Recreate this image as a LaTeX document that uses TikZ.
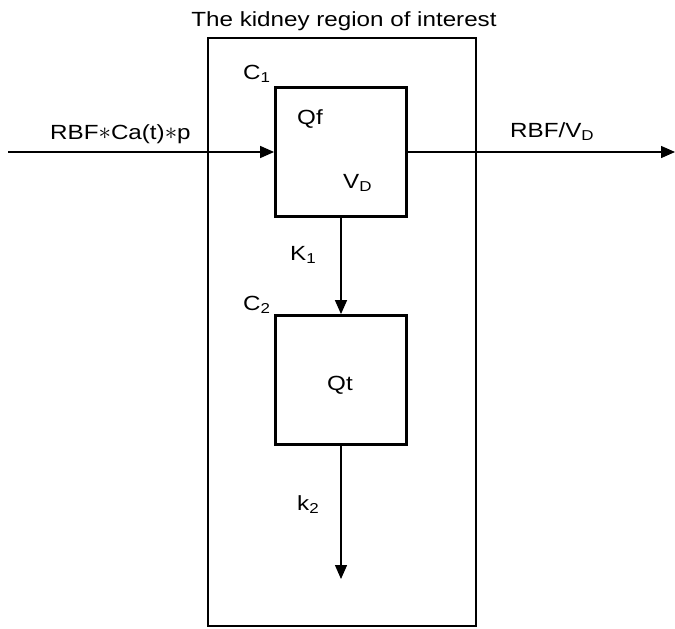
\documentclass[tikz,border=0pt]{standalone}
\usepackage{fontspec}
\setmainfont[FakeStretch=1.18]{Liberation Sans}
\usetikzlibrary{arrows.meta}
\newcommand{\bigstar}{\raisebox{0pt}{\fontsize{24}{20}\selectfont$\ast$}}
\begin{document}
\begin{tikzpicture}[x=1pt,y=-1pt,
  lbl/.style={font=\fontsize{20.5}{22}\selectfont, inner sep=0pt},
  comp/.style={draw, line width=2.8pt, minimum width=131pt, minimum height=129pt, inner sep=0pt},
  flow/.style={line width=1.4pt, -{Triangle[length=14pt,width=12pt]}},
  region/.style={draw, line width=1.3pt, minimum width=268pt, minimum height=588pt, inner sep=0pt}]
\useasboundingbox (0,0) rectangle (675,629);
\node[region] (roi) at (342,332) {};
\node[lbl, anchor=base] (title) at (344,26) {The kidney region of interest};
\node[comp] (b1) at (341,152) {};
\node[comp] (b2) at (341,380) {};
\coordinate (inp) at (8,152);
\coordinate (outp) at (675,152);
\coordinate (k2end) at (341,579);
\draw[flow] (inp) -- (b1.west);
\draw[flow] (b1.east) -- (outp);
\draw[flow] (b1.south) -- (b2.north);
\draw[flow] (b2.south) -- (k2end);
\node[lbl, anchor=base west] (c1) at (243,79) {C\textsubscript{1}};
\node[lbl, anchor=base west] (c2) at (243,310) {C\textsubscript{2}};
\node[lbl, anchor=west] (qf) at (297,119) {Qf};
\node[lbl, anchor=west] (vd) at (343,183) {V\textsubscript{D}};
\node[lbl, anchor=west] (qt) at (327,385) {Qt};
\node[lbl, anchor=west] (kk1) at (290,255) {K\textsubscript{1}};
\node[lbl, anchor=west] (kk2) at (297,505) {k\textsubscript{2}};
\node[lbl, anchor=base west] (rin) at (50,139) {RBF\bigstar Ca(t)\bigstar p};
\node[lbl, anchor=west] (rout) at (510,132) {RBF/V\textsubscript{D}};
\end{tikzpicture}
\end{document}
